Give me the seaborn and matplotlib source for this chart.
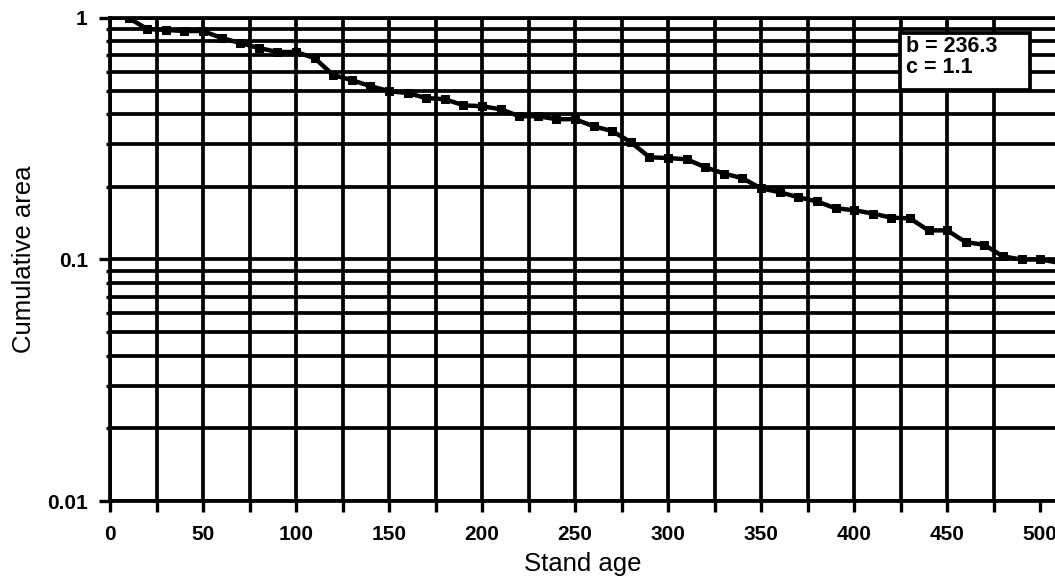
import matplotlib
matplotlib.use("Agg")
import matplotlib.pyplot as plt
from matplotlib.patches import Rectangle
from matplotlib.ticker import FixedLocator, LogLocator, NullFormatter, FixedFormatter
import seaborn as sns
import pandas as pd

# Cumulative area remaining above each stand age
stand_age = [10, 20, 30, 40, 50, 60, 70, 80, 90, 100,
             110, 120, 130, 140, 150, 160, 170, 180, 190, 200,
             210, 220, 230, 240, 250, 260, 270, 280, 290, 300,
             310, 320, 330, 340, 350, 360, 370, 380, 390, 400,
             410, 420, 430, 440, 450, 460, 470, 480, 490, 500, 510]
cumulative_area = [1.0, 0.900, 0.892, 0.883, 0.883, 0.826, 0.788, 0.751, 0.723, 0.723,
                   0.682, 0.580, 0.553, 0.522, 0.498, 0.489, 0.466, 0.461, 0.435, 0.431,
                   0.419, 0.392, 0.392, 0.381, 0.381, 0.356, 0.340, 0.306, 0.265, 0.263,
                   0.260, 0.241, 0.227, 0.217, 0.197, 0.190, 0.181, 0.174, 0.163, 0.160,
                   0.155, 0.149, 0.148, 0.132, 0.132, 0.118, 0.115, 0.103, 0.100, 0.100, 0.097]

x_major_ticks = [0, 50, 100, 150, 200, 250, 300, 350, 400, 450, 500]
x_minor_ticks = [25, 75, 125, 175, 225, 275, 325, 375, 425, 475]
y_tick_values = [0.01, 0.1, 1]
y_tick_labels = ["0.01", "0.1", "1"]
fit_text = "b = 236.3\nc = 1.1"

sns.set_theme(style="ticks")
plt.rcParams["font.family"] = ["Liberation Sans", "DejaVu Sans"]

df = pd.DataFrame({"Stand age": stand_age, "Cumulative area": cumulative_area})

fig = plt.figure(figsize=(10.55, 5.8), dpi=100)
ax = fig.add_axes([0.1043, 0.1362, 0.8957, 0.8328])

ax.set_yscale("log")
ax.set_ylim(0.01, 1)
ax.set_xlim(0, 508)

# Grid: every 25 years vertically, every log sub-division horizontally
ax.xaxis.set_major_locator(FixedLocator(x_major_ticks))
ax.xaxis.set_minor_locator(FixedLocator(x_minor_ticks))
ax.yaxis.set_major_locator(FixedLocator(y_tick_values))
ax.yaxis.set_major_formatter(FixedFormatter(y_tick_labels))
ax.yaxis.set_minor_locator(LogLocator(base=10, subs=range(2, 10)))
ax.yaxis.set_minor_formatter(NullFormatter())

ax.grid(True, which="both", color="black", linewidth=2.7)
ax.set_axisbelow(True)
ax.xaxis.get_major_ticks()[-1].gridline.set_visible(False)

sns.lineplot(data=df, x="Stand age", y="Cumulative area", ax=ax,
             color="black", linewidth=3.2, marker="s", markersize=5.5,
             markeredgecolor="black", markerfacecolor="black")

for side in ["top", "left", "bottom"]:
    ax.spines[side].set_color("black")
    ax.spines[side].set_linewidth(2.7)
ax.spines["right"].set_visible(False)

ax.tick_params(axis="x", which="both", direction="out", length=8, width=2.4,
               color="black", labelsize=15, pad=9, labelcolor="black")
ax.tick_params(axis="y", which="major", direction="out", length=8, width=2.4,
               color="black", labelsize=15, pad=8, labelcolor="black")
ax.tick_params(axis="y", which="minor", direction="out", length=3, width=2.4,
               color="black")
for lab in ax.get_xticklabels() + ax.get_yticklabels():
    lab.set_fontweight("bold")

ax.set_xlabel("Stand age", fontsize=18.5, color="black", labelpad=6)
ax.set_ylabel("Cumulative area", fontsize=18.5, color="black", labelpad=8)

# Fitted parameter box
ax.add_patch(Rectangle((0.836, 0.851), 0.1375, 0.118, transform=ax.transAxes,
                       facecolor="white", edgecolor="black", linewidth=2.7,
                       zorder=4, clip_on=False))
ax.text(0.842, 0.963, fit_text, transform=ax.transAxes, ha="left", va="top",
        fontsize=15.5, fontweight="bold", color="black", linespacing=1.0, zorder=5)

fig.savefig("out.png", dpi=100, facecolor="white")
